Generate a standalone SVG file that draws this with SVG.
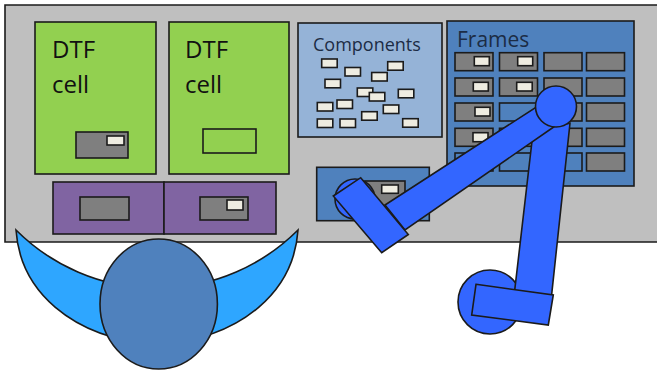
<svg xmlns="http://www.w3.org/2000/svg" width="657" height="374" viewBox="0 0 657 374">
  <style>
    .ln { stroke: #1b1b1b; stroke-width: 1.6; }
    .bench { fill: #bfbfbf; }
    .cell { fill: #92d050; }
    .tray { fill: #8064a2; }
    .slot { fill: #7f7f7f; }
    .chip { fill: #eeece1; }
    .comp { fill: #95b3d7; }
    .frame { fill: #4f81bd; }
    .robot { fill: #3366ff; }
    .label { font-family: "Open Sans", "Liberation Sans", sans-serif; }
  </style>
  <defs>
    <!-- one frame position (38 x 18) -->
    <rect id="fslot" width="38" height="18"/>
    <!-- one loose component -->
    <rect id="part" width="15.5" height="8.5"/>
  </defs>

  <rect fill="#ffffff" width="657" height="374"/>

  <!-- workbench -->
  <g id="bench">
    <rect class="bench" x="5" y="5" width="652" height="237"/>
    <path fill="none" class="ln" d="M657,5 H5 V242 H657"/>
  </g>

  <!-- DTF cells -->
  <g id="dtf-cell-1">
    <rect class="cell ln" x="35" y="22" width="121" height="152"/>
    <text class="label" x="52" y="58" font-size="24" fill="#111">DTF</text>
    <text class="label" x="52" y="93" font-size="24" fill="#111">cell</text>
    <rect class="slot ln" x="76" y="132" width="52" height="26"/>
    <rect class="chip ln" x="107" y="136" width="17" height="9"/>
  </g>
  <g id="dtf-cell-2">
    <rect class="cell ln" x="169" y="22" width="120" height="152"/>
    <text class="label" x="185" y="58" font-size="24" fill="#111">DTF</text>
    <text class="label" x="185" y="93" font-size="24" fill="#111">cell</text>
    <rect class="cell ln" x="203" y="129" width="53" height="24"/>
  </g>

  <!-- purple trays -->
  <g id="tray-1">
    <rect class="tray ln" x="53" y="182" width="111" height="52"/>
    <rect class="slot ln" x="80" y="197" width="49" height="23"/>
  </g>
  <g id="tray-2">
    <rect class="tray ln" x="164" y="182" width="112" height="52"/>
    <rect class="slot ln" x="200" y="197" width="48" height="23"/>
    <rect class="chip ln" x="227" y="200" width="16" height="10"/>
  </g>

  <!-- components store -->
  <g id="components">
    <rect class="comp ln" x="298" y="23" width="144" height="114"/>
    <text class="label" x="313" y="51" font-size="18" fill="#1c2c45">Components</text>
    <g class="chip ln">
      <use href="#part" x="321.7" y="59"/>
      <use href="#part" x="345" y="67.5"/>
      <use href="#part" x="387.7" y="61.7"/>
      <use href="#part" x="371.7" y="72.5"/>
      <use href="#part" x="325" y="79.3"/>
      <use href="#part" x="357.3" y="88"/>
      <use href="#part" x="369.3" y="92.5"/>
      <use href="#part" x="398.3" y="89.3"/>
      <use href="#part" x="317.3" y="102.5"/>
      <use href="#part" x="337" y="100"/>
      <use href="#part" x="383.3" y="105"/>
      <use href="#part" x="361.7" y="111.7"/>
      <use href="#part" x="317.3" y="119"/>
      <use href="#part" x="340" y="119"/>
      <use href="#part" x="402.7" y="118.7"/>
    </g>
  </g>

  <!-- frame rack -->
  <g id="frames">
    <rect class="frame ln" x="447" y="21" width="187" height="165"/>
    <text class="label" x="457" y="47" font-size="21" fill="#1c2c45">Frames</text>
    <g class="slot ln">
      <use href="#fslot" x="455" y="52.7"/>
      <use href="#fslot" x="499.5" y="52.7"/>
      <use href="#fslot" x="544" y="52.7"/>
      <use href="#fslot" x="586.5" y="52.7"/>
      <use href="#fslot" x="455" y="78"/>
      <use href="#fslot" x="499.5" y="78"/>
      <use href="#fslot" x="544" y="78"/>
      <use href="#fslot" x="586.5" y="78"/>
      <use href="#fslot" x="455" y="103"/>
      <use href="#fslot" x="544" y="103"/>
      <use href="#fslot" x="586.5" y="103"/>
      <use href="#fslot" x="455" y="128.3"/>
      <use href="#fslot" x="499.5" y="128.3"/>
      <use href="#fslot" x="544" y="128.3"/>
      <use href="#fslot" x="586.5" y="128.3"/>
      <use href="#fslot" x="586.5" y="153"/>
    </g>
    <g class="frame ln">
      <use href="#fslot" x="499.5" y="103"/>
      <use href="#fslot" x="455" y="153"/>
      <use href="#fslot" x="499.5" y="153"/>
      <use href="#fslot" x="544" y="153"/>
    </g>
    <g class="chip ln">
      <rect x="474.3" y="56.7" width="15" height="9"/>
      <rect x="517.7" y="56.7" width="15" height="9"/>
      <rect x="473.3" y="82.3" width="15" height="8.7"/>
      <rect x="516.7" y="82.3" width="15.5" height="8.7"/>
      <rect x="475" y="107.3" width="15" height="8.7"/>
      <rect x="473" y="132.7" width="15" height="9"/>
    </g>
  </g>

  <!-- frame holder at the front of the bench -->
  <g id="holder">
    <rect class="frame ln" x="316.7" y="167.3" width="112.6" height="53.4"/>
    <rect class="slot ln" x="365" y="181" width="40" height="25"/>
    <rect class="chip ln" x="381.7" y="185" width="16.6" height="8.3"/>
  </g>

  <!-- operator: arms crescent behind the head -->
  <g id="operator">
    <path d="M16,230 C20,290 70,338 157,345 C244,338 294,290 298,230 A199.5,199.5 0 0 1 16,230 Z" fill="#2ea6ff" class="ln"/>
    <ellipse cx="158.7" cy="304" rx="58.7" ry="65" fill="#4f81bd" class="ln"/>
  </g>

  <!-- robot arm -->
  <g id="robot">
    <!-- base and lower link -->
    <circle class="robot ln" cx="490" cy="302" r="32"/>
    <polygon class="robot ln" points="533.3,130 570,123.3 551.5,296 514.5,292"/>
    <polygon class="robot ln" points="476,284.3 553.3,295 548.3,325 471.7,315"/>
    <!-- elbow, upper link and gripper -->
    <circle class="robot ln" cx="355" cy="199" r="20"/>
    <polygon class="robot ln" points="385,205 541,104 558,124 405,230"/>
    <circle class="robot ln" cx="556" cy="106.5" r="20.5"/>
    <polygon class="robot ln" points="333.3,196 360.7,177.7 408.3,234.5 381.7,252.7"/>
  </g>
</svg>
